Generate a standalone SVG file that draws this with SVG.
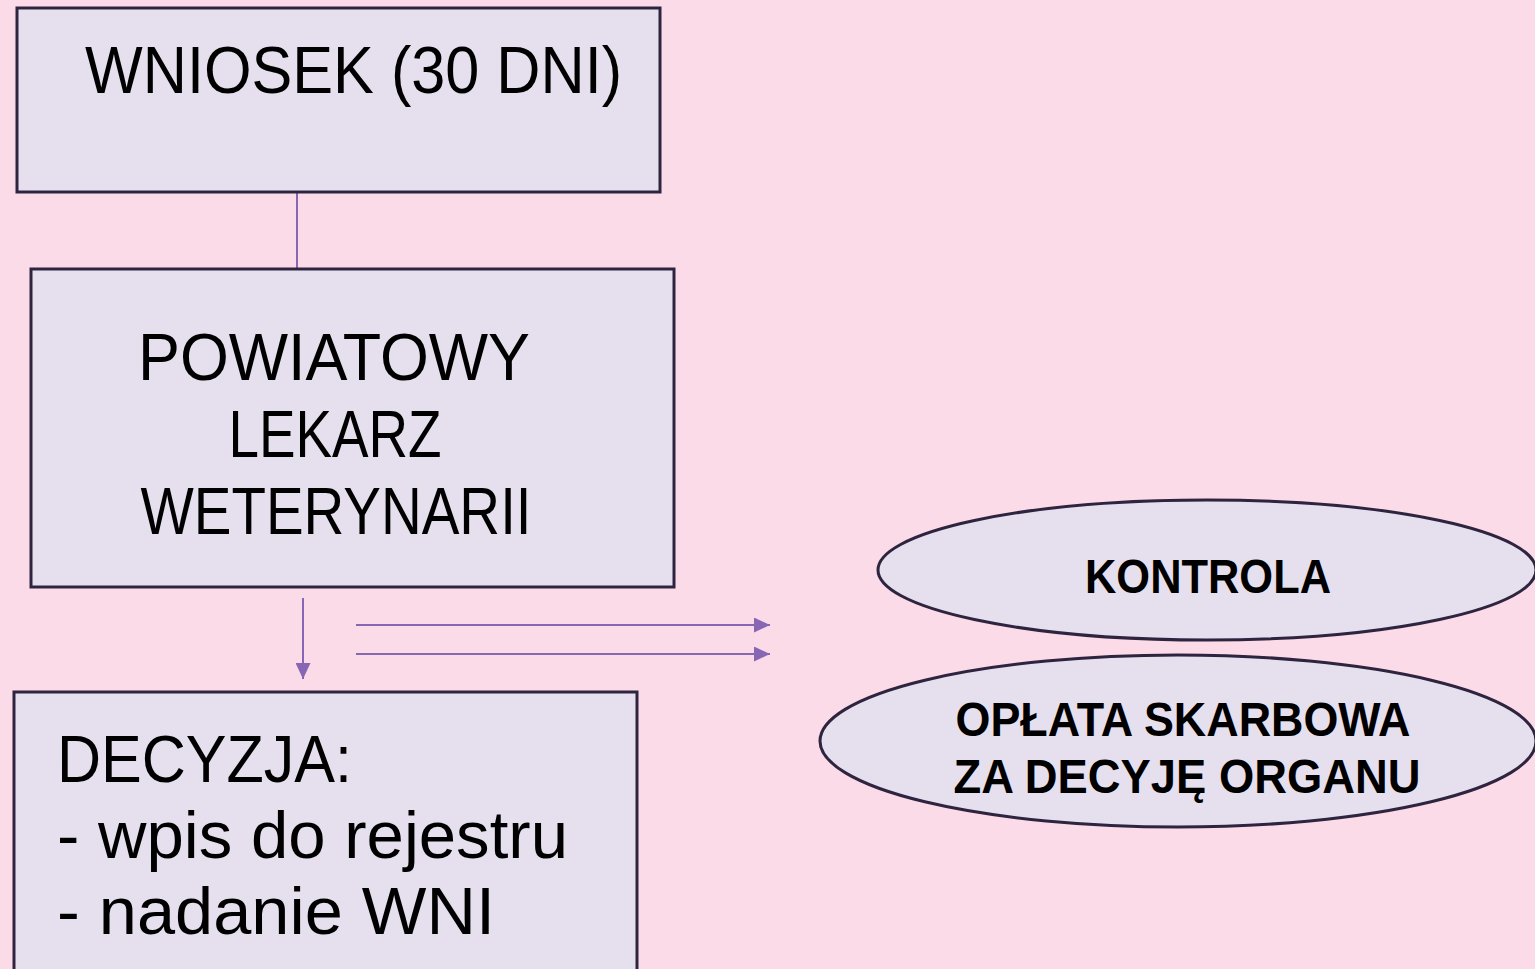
<svg xmlns="http://www.w3.org/2000/svg" width="1535" height="969" viewBox="0 0 1535 969">
<defs>
<style>
.node{fill:#e6e0ee;stroke:#2e2440;stroke-width:3}
.t{font-family:"Liberation Sans",Arial,sans-serif;fill:#000;font-size:66px}
.b{font-family:"Liberation Sans",Arial,sans-serif;font-weight:bold;fill:#000;font-size:48px}
.c{stroke:#8766b4;stroke-width:2;fill:none}
</style>
<marker id="ah" viewBox="0 0 16 15" refX="16" refY="7.5" markerWidth="16" markerHeight="15" markerUnits="userSpaceOnUse" orient="auto">
<path d="M0,0 L16,7.5 L0,15 Z" fill="#8766b4"/>
</marker>
</defs>
<rect width="1535" height="969" fill="#fadbe7"/>
<g id="connectors">
<line class="c" x1="297" y1="193" x2="297" y2="269"/>
<line class="c" x1="303" y1="598" x2="303" y2="679" marker-end="url(#ah)"/>
<line class="c" x1="356" y1="625" x2="770" y2="625" marker-end="url(#ah)"/>
<line class="c" x1="356" y1="654" x2="770" y2="654" marker-end="url(#ah)"/>
</g>
<g id="wniosek">
<rect class="node" x="17" y="8" width="643" height="184"/>
<text class="t" x="85" y="93" textLength="537" lengthAdjust="spacingAndGlyphs">WNIOSEK (30 DNI)</text>
</g>
<g id="plw">
<rect class="node" x="31" y="269" width="643" height="318"/>
<text class="t" x="334" y="380" text-anchor="middle" textLength="392" lengthAdjust="spacingAndGlyphs">POWIATOWY</text>
<text class="t" x="335" y="457" text-anchor="middle" textLength="213" lengthAdjust="spacingAndGlyphs">LEKARZ</text>
<text class="t" x="336" y="534" text-anchor="middle" textLength="391" lengthAdjust="spacingAndGlyphs">WETERYNARII</text>
</g>
<g id="decyzja">
<rect class="node" x="14" y="692" width="623" height="290"/>
<text class="t" x="57" y="782" textLength="295" lengthAdjust="spacingAndGlyphs">DECYZJA:</text>
<text class="t" x="57" y="858" textLength="511" lengthAdjust="spacingAndGlyphs">- wpis do rejestru</text>
<text class="t" x="57" y="934" textLength="438" lengthAdjust="spacingAndGlyphs">- nadanie WNI</text>
</g>
<g id="kontrola">
<ellipse class="node" cx="1207" cy="570" rx="329" ry="70"/>
<text class="b" x="1208" y="593" text-anchor="middle" textLength="246" lengthAdjust="spacingAndGlyphs">KONTROLA</text>
</g>
<g id="oplata">
<ellipse class="node" cx="1178" cy="741" rx="358" ry="86"/>
<text class="b" x="1183" y="736" text-anchor="middle" textLength="455" lengthAdjust="spacingAndGlyphs">OPŁATA SKARBOWA</text>
<text class="b" x="1187" y="793" text-anchor="middle" textLength="467" lengthAdjust="spacingAndGlyphs">ZA DECYJĘ ORGANU</text>
</g>
</svg>
